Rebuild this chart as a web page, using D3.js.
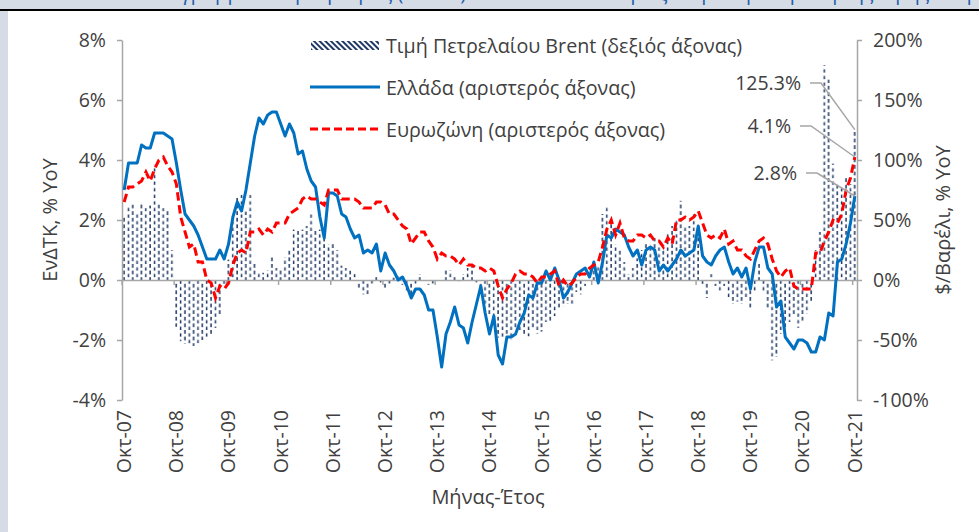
<!DOCTYPE html>
<html>
<head>
<meta charset="utf-8">
<script src="https://cdn.jsdelivr.net/npm/d3@7"></script>
<style>
  body { margin: 0; background: #fff; }
  svg { display: block; font-family: "Open Sans", sans-serif; }
</style>
</head>
<body>
<script>
// monthly, Oct 2007 .. Oct 2021
const months = d3.timeMonths(new Date(2007, 9, 1), new Date(2021, 10, 1));
const monthNames = ["Ιαν", "Φεβ", "Μαρ", "Απρ", "Μαϊ", "Ιουν", "Ιουλ", "Αυγ", "Σεπ", "Οκτ", "Νοε", "Δεκ"];

// ΕνΔΤΚ Ελλάδα, % yoy (left axis)
const greece = [
  3.0, 3.9, 3.9,
  3.9, 4.5, 4.4, 4.4, 4.9, 4.9, 4.9, 4.8, 4.7, 3.9, 3.0, 2.2,
  2.0, 1.8, 1.5, 1.1, 0.7, 0.7, 0.7, 1.0, 0.7, 1.2, 2.1, 2.6,
  2.3, 3.0, 3.9, 4.8, 5.4, 5.2, 5.5, 5.6, 5.6, 5.2, 4.8, 5.2,
  4.9, 4.2, 4.3, 3.7, 3.3, 3.1, 2.1, 1.4, 2.9, 2.9, 2.8, 2.2,
  2.1, 1.7, 1.4, 1.5, 0.9, 1.0, 0.9, 1.2, 0.3, 0.9, 0.5, 0.3,
  0.0, 0.1, -0.2, -0.6, -0.3, -0.3, -0.5, -1.0, -1.0, -1.9, -2.9, -1.8,
  -1.4, -0.9, -1.5, -1.6, -2.1, -1.4, -0.8, -0.2, -1.1, -1.8, -1.2, -2.5,
  -2.8, -1.9, -1.9, -1.8, -1.4, -1.1, -0.5, -0.6, -0.1, -0.1, 0.3, 0.0,
  0.4, 0.0, -0.6, -0.4, -0.1, 0.2, 0.3, 0.4, 0.1, 0.6, -0.1, 0.6,
  1.5, 1.4, 1.7, 1.6, 1.5, 1.1, 0.8, 1.0, 0.5, 1.0, 1.1, 1.0,
  0.3, 0.5, 0.3, 0.5, 0.7, 1.0, 0.8, 0.9, 1.0, 1.8, 0.8, 0.6,
  0.5, 0.8, 1.0, 1.1, 0.6, 0.2, 0.4, 0.1, 0.4, -0.3, 0.6, 1.1,
  1.1, 0.4, 0.2, -0.9, -0.7, -1.9, -2.1, -2.3, -2.0, -2.0, -2.1, -2.4,
  -2.4, -1.9, -2.0, -1.1, -1.2, 0.6, 0.7, 1.2, 1.9, 2.8
];

// ΕνΔΤΚ Ευρωζώνη, % yoy (left axis)
const eurozone = [
  2.6, 3.1, 3.1,
  3.2, 3.3, 3.6, 3.3, 3.7, 4.0, 4.1, 3.8, 3.6, 3.2, 2.1, 1.6,
  1.1, 1.2, 0.6, 0.6, 0.0, -0.1, -0.6, -0.2, -0.3, -0.1, 0.5, 0.9,
  1.0, 0.9, 1.6, 1.6, 1.7, 1.5, 1.7, 1.6, 1.9, 1.9, 1.9, 2.2,
  2.3, 2.4, 2.7, 2.8, 2.7, 2.7, 2.6, 2.5, 3.0, 3.0, 3.0, 2.7,
  2.7, 2.7, 2.7, 2.6, 2.4, 2.4, 2.4, 2.6, 2.6, 2.5, 2.2, 2.2,
  2.0, 1.8, 1.7, 1.2, 1.4, 1.6, 1.6, 1.3, 1.1, 0.7, 0.9, 0.8,
  0.8, 0.7, 0.5, 0.7, 0.5, 0.5, 0.4, 0.4, 0.3, 0.4, 0.3, -0.2,
  -0.6, -0.3, -0.1, 0.2, 0.3, 0.2, 0.2, 0.1, -0.1, 0.1, 0.1, 0.2,
  0.3, -0.2, 0.0, -0.2, -0.1, 0.1, 0.2, 0.2, 0.4, 0.5, 0.6, 1.1,
  1.7, 2.0, 1.5, 1.9, 1.4, 1.3, 1.3, 1.5, 1.5, 1.4, 1.5, 1.3,
  1.3, 1.1, 1.4, 1.2, 2.0, 2.0, 2.1, 2.0, 2.1, 2.3, 1.9, 1.5,
  1.4, 1.5, 1.4, 1.7, 1.2, 1.3, 1.0, 1.0, 0.8, 0.7, 1.0, 1.3,
  1.4, 1.2, 0.7, 0.3, 0.1, 0.3, 0.4, -0.2, -0.3, -0.3, -0.3, -0.3,
  0.9, 0.9, 1.3, 1.6, 2.0, 1.9, 2.2, 3.0, 3.4, 4.1
];

// Brent, $/barrel % yoy (right axis)
const brent = [
  53, 61, 63,
  55, 65, 60, 62, 96, 63, 60, 58, 25, -39, -51, -53,
  -55, -55, -53, -50, -48, -45, -40, -29, -5, 17, 53, 69,
  71, 57, 71, 14, 6, 6, 8, 19, 10, 10, 19, 25,
  42, 42, 42, 45, 57, 42, 42, 42, 30, 30, 25, 12,
  10, 8, 5, -8, -12, -12, -3, 4, -2, -8, -3, 2,
  3, -4, -10, -15, -3, 5, 2, -4, -3, -2, 2, 10,
  8, 3, -1, 5, 10, 12, -2, -12, -20, -30, -36, -48,
  -48, -45, -50, -40, -42, -45, -47, -40, -45, -43, -35, -35,
  -30, -25, -22, -20, -20, -10, -12, -5, 5, 15, 13, 55,
  62, 50, 30, 25, 15, 5, 10, 18, 25, 30, 30, 35,
  30, 25, 40, 45, 50, 66, 45, 45, 55, 40, -5, -15,
  5, -5, -10, -5, -15, -20, -18, -20, -15, -25, -10, 15,
  -10, -25, -67, -64, -45, -40, -35, -30, -40, -35, -28, -18,
  25, 40, 179, 167, 97, 80, 78, 85, 80, 125.3
];

const leftTicks = [-4, -2, 0, 2, 4, 6, 8];
const rightTicks = [-100, -50, 0, 50, 100, 150, 200];

const W = 979, H = 532;
const plotLeft = 122, plotRight = 857, plotTop = 40, plotBottom = 400;
const grey = "#a6a6a6", txt = "#404040", fs = "19.5px";

const svg = d3.select("body").append("svg")
    .attr("width", W)
    .attr("height", H);

// frame bits from the page the chart was cut out of
svg.append("rect").attr("x", 0).attr("y", 0).attr("width", W).attr("height", 10).attr("fill", "#d6dce5");
svg.append("rect").attr("x", 0).attr("y", 10).attr("width", 8).attr("height", H - 10).attr("fill", "#d6dce5");
svg.append("defs").append("clipPath").attr("id", "topclip")
  .append("rect").attr("x", 0).attr("y", 0).attr("width", W).attr("height", 9);
svg.append("g").attr("clip-path", "url(#topclip)")
  .append("text")
    .attr("x", 150).attr("y", 0)
    .attr("fill", "#1f5fad")
    .style("font-size", "20px")
    .text("Διάγραμμα: Πληθωρισμός (ΕνΔΤΚ) σε Ελλάδα και Ευρωζώνη και μεταβολή της τιμής πετρελαίου");
svg.append("line").attr("x1", 0).attr("x2", W).attr("y1", 10).attr("y2", 10)
    .attr("stroke", "#000").attr("stroke-width", 2);

const x = d3.scaleBand().domain(months).range([plotLeft, plotRight]).padding(0);
const yL = d3.scaleLinear().domain([-4, 8]).range([plotBottom, plotTop]);
const yR = d3.scaleLinear().domain([-100, 200]).range([plotBottom, plotTop]);
const bw = x.bandwidth();
const cx = d => x(d) + bw / 2;

// patterns
const defs = svg.append("defs");
const pat = defs.append("pattern")
    .attr("id", "dashes")
    .attr("patternUnits", "userSpaceOnUse")
    .attr("x", plotLeft).attr("y", 0)
    .attr("width", bw * 2).attr("height", 6.6);
pat.append("rect").attr("x", bw * 0.3).attr("y", 0).attr("width", 1.5).attr("height", 3.8).attr("fill", "#1f3864");
pat.append("rect").attr("x", bw * 1.3).attr("y", 3.3).attr("width", 1.5).attr("height", 3.8).attr("fill", "#1f3864");

const diag = defs.append("pattern")
    .attr("id", "diag")
    .attr("patternUnits", "userSpaceOnUse")
    .attr("width", 4).attr("height", 4)
    .attr("patternTransform", "rotate(-45)");
diag.append("rect").attr("width", 2).attr("height", 4).attr("fill", "#1f3864");

// Brent bars
svg.append("g").selectAll("rect")
  .data(months)
  .join("rect")
    .attr("x", d => x(d))
    .attr("width", bw)
    .attr("y", (d, i) => Math.min(yR(brent[i]), yR(0)))
    .attr("height", (d, i) => Math.abs(yR(brent[i]) - yR(0)))
    .attr("fill", "url(#dashes)");

// axes
const axL = svg.append("g")
    .attr("transform", `translate(${plotLeft},0)`)
    .call(d3.axisLeft(yL).tickValues(leftTicks).tickSize(5).tickSizeOuter(0).tickPadding(11).tickFormat(d => d + "%"));
const axR = svg.append("g")
    .attr("transform", `translate(${plotRight},0)`)
    .call(d3.axisRight(yR).tickValues(rightTicks).tickSize(5).tickSizeOuter(0).tickPadding(11).tickFormat(d => d + "%"));
[axL, axR].forEach(g => {
  g.select(".domain").attr("stroke", grey).attr("stroke-width", 1.5);
  g.selectAll(".tick line").attr("stroke", grey).attr("stroke-width", 1.5);
  g.selectAll(".tick text").attr("fill", txt).style("font-size", fs).style("font-family", "Open Sans");
});

// zero line with yearly tick marks
const yearly = months.filter((d, i) => i % 12 === 0);
const axX = svg.append("g")
    .attr("transform", `translate(0,${yL(0)})`)
    .call(d3.axisBottom(x).tickValues(yearly).tickSize(5).tickSizeOuter(0).tickFormat(""));
axX.select(".domain").attr("stroke", grey).attr("stroke-width", 1.5);
axX.selectAll(".tick").attr("transform", d => `translate(${x(d)},0)`);
axX.selectAll(".tick line").attr("stroke", grey).attr("stroke-width", 1.5);

// month labels at the bottom
const fmt = d => monthNames[d.getMonth()] + "-" + d3.timeFormat("%y")(d);
svg.append("g").selectAll("text")
  .data(yearly)
  .join("text")
    .attr("transform", d => `translate(${cx(d)},410) rotate(-90)`)
    .attr("text-anchor", "end")
    .attr("dy", "0.35em")
    .attr("fill", txt)
    .style("font-size", fs)
    .text(fmt);

// lines
const lineL = d3.line().x((d, i) => cx(months[i])).y(d => yL(d));
svg.append("path")
    .attr("d", lineL(greece))
    .attr("fill", "none")
    .attr("stroke", "#0070c0")
    .attr("stroke-width", 3)
    .attr("stroke-linejoin", "round");
svg.append("path")
    .attr("d", lineL(eurozone))
    .attr("fill", "none")
    .attr("stroke", "#ff0000")
    .attr("stroke-width", 3)
    .attr("stroke-dasharray", "8.5,4.5");

// end-value call-outs
const last = months.length - 1;
const callouts = [
  {label: "125.3%", tx: 801, ty: 83, ex: cx(months[last]), ey: yR(brent[last])},
  {label: "4.1%", tx: 791, ty: 126, ex: cx(months[last]), ey: yL(eurozone[last])},
  {label: "2.8%", tx: 797, ty: 173, ex: cx(months[last]), ey: yL(greece[last])}
];
callouts.forEach(c => {
  svg.append("polyline")
      .attr("points", [[c.tx + 9, c.ty], [c.tx + 20, c.ty], [c.ex, c.ey]].join(" "))
      .attr("fill", "none")
      .attr("stroke", grey)
      .attr("stroke-width", 1.5);
  svg.append("text")
      .attr("x", c.tx).attr("y", c.ty)
      .attr("dy", "0.35em")
      .attr("text-anchor", "end")
      .attr("fill", txt)
      .style("font-size", fs)
      .text(c.label);
});

// legend
const lg = svg.append("g");
lg.append("rect").attr("x", 311).attr("y", 41).attr("width", 68).attr("height", 9).attr("fill", "url(#diag)");
lg.append("line").attr("x1", 310).attr("x2", 380).attr("y1", 87).attr("y2", 87)
    .attr("stroke", "#0070c0").attr("stroke-width", 3);
lg.append("line").attr("x1", 310).attr("x2", 380).attr("y1", 129).attr("y2", 129)
    .attr("stroke", "#ff0000").attr("stroke-width", 3).attr("stroke-dasharray", "8,4");
const legendText = ["Τιμή Πετρελαίου Brent (δεξιός άξονας)", "Ελλάδα (αριστερός άξονας)", "Ευρωζώνη (αριστερός άξονας)"];
lg.selectAll("text")
  .data(legendText)
  .join("text")
    .attr("x", 386)
    .attr("y", (d, i) => 46 + i * 42)
    .attr("dy", "0.35em")
    .attr("fill", txt)
    .style("font-size", "19.7px")
    .text(d => d);

// axis titles
svg.append("text")
    .attr("transform", `translate(50,${(plotTop + plotBottom) / 2}) rotate(-90)`)
    .attr("text-anchor", "middle")
    .attr("dy", "0.35em")
    .attr("fill", txt)
    .style("font-size", "20px")
    .text("ΕνΔΤΚ, % YoY");
svg.append("text")
    .attr("transform", `translate(943,${(plotTop + plotBottom) / 2}) rotate(-90)`)
    .attr("text-anchor", "middle")
    .attr("dy", "0.35em")
    .attr("fill", txt)
    .style("font-size", "20px")
    .text("$/Βαρέλι, % YoY");
svg.append("text")
    .attr("x", 488).attr("y", 497)
    .attr("text-anchor", "middle")
    .attr("dy", "0.35em")
    .attr("fill", txt)
    .style("font-size", "20px")
    .text("Μήνας-Έτος");
</script>
</body>
</html>
